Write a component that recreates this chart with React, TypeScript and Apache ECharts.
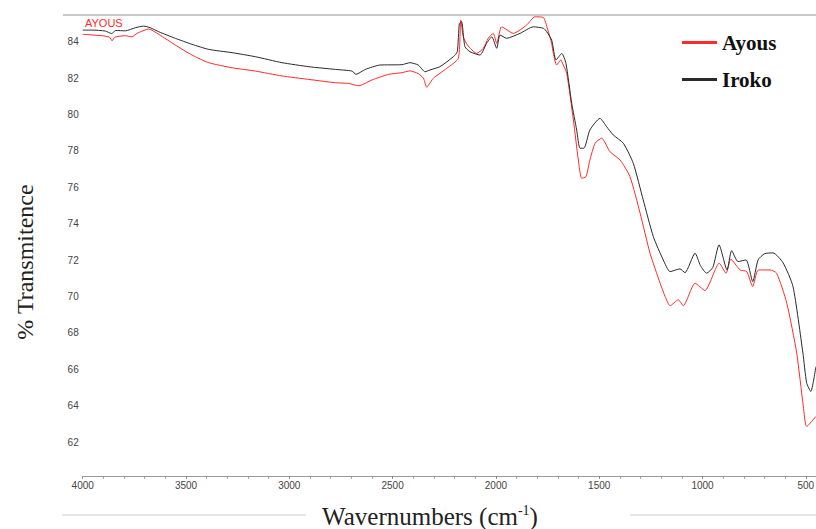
import React, { useEffect, useRef } from "react";
import * as echarts from "echarts";

// Wavenumbers (cm-1) and % transmittance
const irokoWn = [4000, 3955, 3891, 3860, 3840, 3794, 3745, 3705, 3673, 3632, 3552, 3471, 3390, 3277, 3165, 3035, 2906, 2777, 2697, 2677, 2632, 2561, 2455, 2416, 2376, 2343, 2319, 2271, 2206, 2187, 2177, 2166, 2150, 2125, 2077, 2045, 2020, 1996, 1980, 1948, 1883, 1819, 1770, 1754, 1730, 1709, 1681, 1661, 1633, 1609, 1593, 1574, 1545, 1496, 1464, 1432, 1383, 1335, 1287, 1238, 1190, 1157, 1109, 1085, 1036, 1010, 980, 950, 920, 881, 859, 828, 789, 757, 731, 700, 659, 610, 562, 514, 496, 476, 451];
const irokoT = [84.64, 84.64, 84.59, 84.45, 84.62, 84.6, 84.77, 84.86, 84.77, 84.55, 84.19, 83.86, 83.58, 83.4, 83.18, 82.85, 82.63, 82.48, 82.39, 82.21, 82.48, 82.72, 82.74, 82.85, 82.72, 82.35, 82.45, 82.63, 83.18, 83.45, 85.0, 85.1, 83.73, 83.45, 83.27, 83.91, 84.27, 83.64, 84.37, 84.19, 84.46, 84.82, 84.74, 84.55, 84.09, 83.0, 83.36, 82.81, 80.62, 79.15, 78.15, 78.15, 79.15, 79.79, 79.33, 78.88, 78.42, 77.32, 75.31, 73.29, 72.01, 71.37, 71.52, 71.31, 72.38, 71.7, 71.28, 71.6, 72.84, 71.46, 72.52, 71.92, 72.01, 70.82, 72.01, 72.35, 72.4, 71.85, 70.55, 66.9, 65.26, 64.78, 66.15];

const ayousWn = [4000, 3907, 3870, 3858, 3845, 3794, 3761, 3737, 3681, 3632, 3552, 3471, 3390, 3277, 3165, 3035, 2906, 2777, 2713, 2664, 2600, 2519, 2455, 2416, 2376, 2351, 2335, 2327, 2303, 2238, 2182, 2170, 2158, 2138, 2093, 2061, 2037, 2013, 1996, 1972, 1916, 1851, 1811, 1771, 1750, 1730, 1722, 1706, 1686, 1674, 1657, 1625, 1601, 1585, 1564, 1545, 1520, 1488, 1448, 1399, 1351, 1302, 1254, 1205, 1181, 1157, 1117, 1093, 1036, 988, 919, 886, 863, 818, 786, 757, 730, 673, 641, 592, 544, 512, 496, 451];
const ayousT = [84.41, 84.33, 84.25, 84.05, 84.25, 84.33, 84.27, 84.46, 84.7, 84.41, 83.82, 83.27, 82.85, 82.57, 82.39, 82.12, 81.93, 81.75, 81.71, 81.58, 81.9, 82.21, 82.3, 82.4, 82.25, 82.0, 81.5, 81.6, 81.99, 82.54, 83.09, 85.19, 84.27, 83.82, 83.36, 83.64, 84.19, 84.46, 83.91, 84.82, 84.46, 84.92, 85.37, 85.34, 84.7, 83.9, 83.36, 82.72, 83.0, 82.72, 82.26, 79.7, 77.5, 76.5, 76.59, 77.5, 78.42, 78.7, 77.96, 77.5, 76.59, 74.58, 72.38, 70.73, 70.0, 69.49, 69.82, 69.49, 70.73, 70.33, 71.83, 71.28, 72.05, 71.46, 71.37, 70.55, 71.46, 71.46, 71.28, 69.63, 66.89, 63.96, 62.86, 63.41];

const seriesNames = ["Ayous", "Iroko"];
const yTickValues = [62, 64, 66, 68, 70, 72, 74, 76, 78, 80, 82, 84];

const SERIF = '"Liberation Serif", "Times New Roman", serif';
const SANS = '"Liberation Sans", Arial, sans-serif';

export default function App() {
  const ref = useRef<HTMLDivElement>(null);
  useEffect(() => {
    if (!ref.current) return;
    const chart = echarts.init(ref.current, null, { renderer: "svg" });
    const option = {
      animation: false,
      backgroundColor: "#ffffff",
      grid: {
        left: 82.7,
        width: 826.4,
        top: 15,
        bottom: 50.5,
        containLabel: false,
        outerBoundsMode: "none",
      },
      legend: {
        orient: "vertical",
        left: 677,
        top: 27,
        itemGap: 16,
        itemWidth: 35,
        itemHeight: 3,
        icon: "rect",
        data: seriesNames,
        textStyle: { fontFamily: SERIF, fontWeight: "bold", fontSize: 21, color: "#111" },
      },
      xAxis: {
        type: "value",
        inverse: true,
        min: 0,
        max: 4000,
        interval: 500,
        offset: -1.8,
        axisLine: { show: true, lineStyle: { color: "#9a9a9a", width: 1 } },
        axisTick: { show: true, length: 2, lineStyle: { color: "#777" } },
        minorTick: { show: true, splitNumber: 5, length: 2, lineStyle: { color: "#999" } },
        axisLabel: {
          color: "#444",
          fontSize: 10,
          fontFamily: SANS,
          margin: 4,
          showMaxLabel: true,
          formatter: (v: number) => (v === 0 ? "" : String(v)),
        },
        splitLine: { show: false },
      },
      yAxis: {
        type: "value",
        min: 60,
        max: 85.47,
        interval: 2,
        axisLine: { show: true, lineStyle: { color: "#9a9a9a", width: 1 } },
        axisTick: { show: true, length: 3, lineStyle: { color: "#777" } },
        minorTick: { show: true, splitNumber: 4, length: 2, lineStyle: { color: "#aaa" } },
        axisLabel: {
          color: "#444",
          fontSize: 10,
          fontFamily: SANS,
          margin: 4,
          formatter: (v: number) => (yTickValues.indexOf(v) >= 0 ? String(v) : ""),
        },
        splitLine: { show: false },
      },
      series: [
        {
          name: seriesNames[0],
          type: "line",
          data: ayousWn.map((w, i) => [w, ayousT[i]]),
          symbol: "none",
          smooth: 0.2,
          color: "#ff2a2a",
          lineStyle: { color: "#ff2a2a", width: 1 },
        },
        {
          name: seriesNames[1],
          type: "line",
          data: irokoWn.map((w, i) => [w, irokoT[i]]),
          symbol: "none",
          smooth: 0.2,
          color: "#2a2a2a",
          lineStyle: { color: "#2a2a2a", width: 1 },
        },
      ],
      graphic: [
        { type: "line", shape: { x1: 63, y1: 15, x2: 816, y2: 15 }, style: { stroke: "#c8c8c8", lineWidth: 2 }, silent: true },
        { type: "line", shape: { x1: 62, y1: 515, x2: 306, y2: 515 }, style: { stroke: "#e6e6e6", lineWidth: 2 }, silent: true },
        { type: "line", shape: { x1: 630, y1: 515, x2: 816, y2: 515 }, style: { stroke: "#e6e6e6", lineWidth: 2 }, silent: true },
        {
          type: "text",
          x: 85,
          y: 17,
          style: { text: "AYOUS", fill: "#ff2a2a", fontSize: 11, fontFamily: SANS },
          silent: true,
        },
        {
          type: "text",
          x: 25,
          y: 262,
          rotation: Math.PI / 2,
          style: {
            text: "% Transmitence",
            fill: "#222",
            fontSize: 24,
            fontFamily: SERIF,
            align: "center",
            verticalAlign: "middle",
          },
          silent: true,
        },
        {
          type: "text",
          x: 430,
          y: 516,
          style: {
            text: "Wavernumbers (cm{s|-1})",
            fill: "#222",
            fontSize: 25,
            fontFamily: SERIF,
            align: "center",
            verticalAlign: "middle",
            rich: {
              s: { fontSize: 14, fontFamily: SERIF, fill: "#222", verticalAlign: "top" },
            },
          },
          silent: true,
        },
      ],
    };
    chart.setOption(option as any);
    return () => chart.dispose();
  }, []);
  return (
    <div
      ref={ref}
      style={{ position: "absolute", left: 0, top: 0, width: 816, height: 529 }}
    />
  );
}
